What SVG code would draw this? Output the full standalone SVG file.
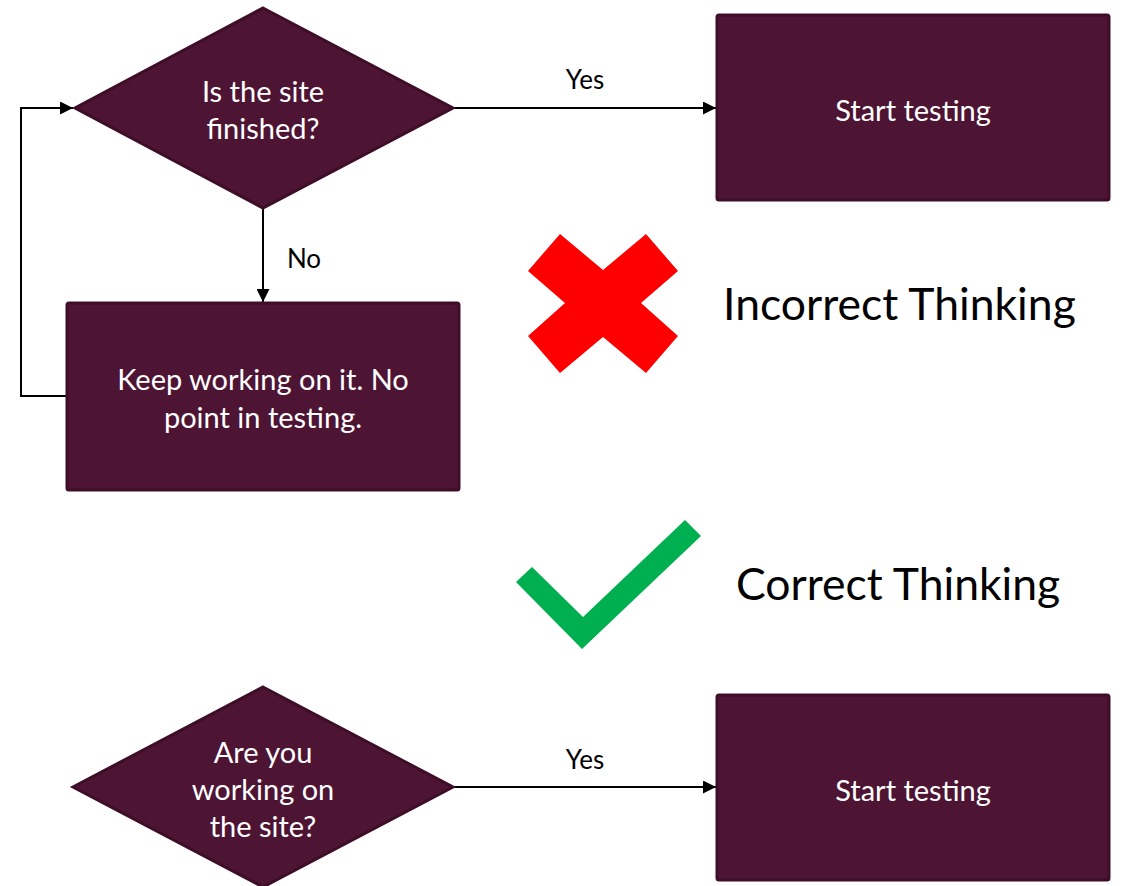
<svg xmlns="http://www.w3.org/2000/svg" width="1125" height="886" viewBox="0 0 1125 886">
<style>
.shape{fill:#4D1533;stroke:#3E0E28;stroke-width:3}
.nt{font-family:Lato,"Open Sans",sans-serif;font-size:29px;fill:#ffffff;text-anchor:middle}
.lbl{font-family:Lato,"Open Sans",sans-serif;font-size:26px;fill:#000000;text-anchor:middle}
.big{font-family:Lato,"Open Sans",sans-serif;font-size:44.5px;fill:#000000}
.conn{fill:none;stroke:#000000;stroke-width:2}
</style>
<defs>
<marker id="arr" viewBox="0 0 10 10" refX="10" refY="5" markerWidth="13" markerHeight="13" markerUnits="userSpaceOnUse" orient="auto">
<path d="M0,0 L10,5 L0,10 Z" fill="#000000"/>
</marker>
</defs>
<rect width="1125" height="886" fill="#ffffff"/>
<g id="connectors">
<line class="conn" x1="454" y1="108" x2="716" y2="108" marker-end="url(#arr)"/>
<line class="conn" x1="263" y1="209" x2="263" y2="302" marker-end="url(#arr)"/>
<polyline class="conn" points="67,396 21,396 21,108 73,108" marker-end="url(#arr)"/>
<line class="conn" x1="453" y1="787" x2="716" y2="787" marker-end="url(#arr)"/>
<text class="lbl" x="585" y="89">Yes</text>
<text class="lbl" x="304" y="268">No</text>
<text class="lbl" x="585" y="769">Yes</text>
</g>
<g id="decision1">
<polygon class="shape" points="263,8 453,108 263,208 75,108"/>
<text class="nt" x="263" y="102">Is the site</text>
<text class="nt" x="263" y="139">finished?</text>
</g>
<g id="start1">
<rect class="shape" x="717" y="15" width="392" height="185" rx="2"/>
<text class="nt" x="913" y="121">Start testing</text>
</g>
<g id="keep">
<rect class="shape" x="67" y="303" width="392" height="187" rx="2"/>
<text class="nt" x="263" y="390">Keep working on it. No</text>
<text class="nt" x="263" y="428">point in testing.</text>
</g>
<g id="cross">
<polygon points="560,234 603,270 646,234 678,271 641,303 678,336 646,373 603,337 560,373 528,336 565,303 528,271" fill="#FF0000"/>
<text class="big" x="723" y="320">Incorrect Thinking</text>
</g>
<g id="check">
<polygon points="516,582 532,567 583,617 685,520 701,536 582,649" fill="#00B050"/>
<text class="big" x="736" y="600">Correct Thinking</text>
</g>
<g id="decision2">
<polygon class="shape" points="263,687 453,787 263,887 73,787"/>
<text class="nt" x="263" y="763">Are you</text>
<text class="nt" x="263" y="800">working on</text>
<text class="nt" x="263" y="837">the site?</text>
</g>
<g id="start2">
<rect class="shape" x="717" y="695" width="392" height="185" rx="2"/>
<text class="nt" x="913" y="801">Start testing</text>
</g>
</svg>
